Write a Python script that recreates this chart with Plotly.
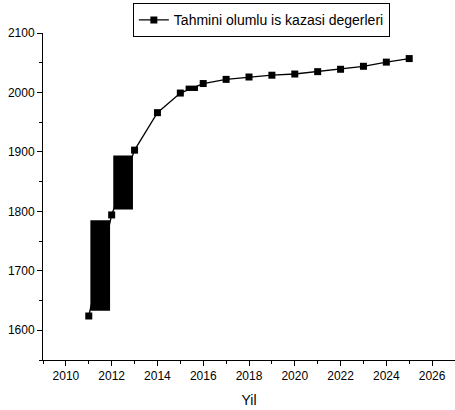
import plotly.graph_objects as go

years = [2011, 2012, 2013, 2014, 2015, 2016, 2017, 2018, 2019, 2020, 2021, 2022, 2023, 2024, 2025]
values = [1624, 1794, 1903, 1966, 1999, 2015, 2022, 2026, 2029, 2031, 2035, 2039, 2044, 2051, 2057]
series_name = "Tahmini olumlu is kazasi degerleri"
x_title = "Yil"

# segments rendered as filled blocks in the original (start year, x inset, y inset)
block_segments = [(2011, 0.07, 9), (2012, 0.07, 9), (2015, 0.23, 3.5)]

FONT = "Liberation Sans, Arial, sans-serif"

fig = go.Figure()
fig.add_trace(go.Scatter(
    x=years, y=values, mode="lines+markers", name=series_name,
    line=dict(color="black", width=1.3),
    marker=dict(symbol="square", size=7, color="black"),
))

for (start, ix, iy) in block_segments:
    i = years.index(start)
    x0, x1 = years[i] + ix, years[i + 1] - ix
    ya, yb = values[i], values[i + 1]
    lo, hi = min(ya, yb) + iy, max(ya, yb) - iy
    fig.add_shape(type="rect", xref="x", yref="y", x0=x0, x1=x1, y0=lo, y1=hi,
                  fillcolor="black", line=dict(width=0))

axis_common = dict(
    showline=True, linecolor="black", linewidth=1,
    ticks="outside", ticklen=5, tickwidth=1, tickcolor="black",
    showgrid=False, zeroline=False, automargin=False,
    tickfont=dict(family=FONT, size=12, color="black"),
)

fig.update_xaxes(
    range=[2009, 2027], tick0=2010, dtick=2,
    minor=dict(ticks="outside", ticklen=3, dtick=1, tick0=2009, tickcolor="black"),
    title=dict(text=x_title, font=dict(family=FONT, size=14, color="black"), standoff=12),
    **axis_common,
)
fig.update_yaxes(
    range=[1550, 2100], tick0=1600, dtick=100,
    minor=dict(ticks="outside", ticklen=3, dtick=50, tick0=1550, tickcolor="black"),
    **axis_common,
)

fig.update_layout(
    width=455, height=410,
    margin=dict(l=43, r=0, t=33, b=50, autoexpand=False),
    paper_bgcolor="white", plot_bgcolor="white",
    showlegend=True,
    legend=dict(
        x=0.53, xanchor="center", y=0.992, yanchor="top", yref="container",
        bgcolor="white", bordercolor="black", borderwidth=1,
        font=dict(family=FONT, size=14, color="black"),
        itemwidth=30, tracegroupgap=0,
    ),
    font=dict(family=FONT),
)

fig.write_html("out.html", config={"displayModeBar": False},
               post_script="document.body.style.margin='0';")
